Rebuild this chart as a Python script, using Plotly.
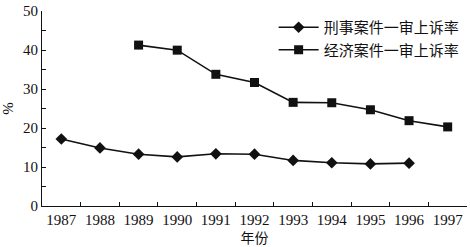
import plotly.graph_objects as go

years = ["1987", "1988", "1989", "1990", "1991", "1992", "1993", "1994", "1995", "1996", "1997"]
crim_years = ["1987", "1988", "1989", "1990", "1991", "1992", "1993", "1994", "1995", "1996"]
crim_vals = [17.2, 14.9, 13.3, 12.6, 13.4, 13.3, 11.7, 11.1, 10.8, 11.0]
econ_years = ["1989", "1990", "1991", "1992", "1993", "1994", "1995", "1996", "1997"]
econ_vals = [41.3, 40.0, 33.8, 31.7, 26.6, 26.5, 24.7, 21.9, 20.3]
crim_name = "刑事案件一审上诉率"
econ_name = "经济案件一审上诉率"

serif = "Liberation Serif, Times New Roman, serif"
cjk = "Noto Sans CJK SC, sans-serif"

fig = go.Figure()
fig.add_trace(go.Scatter(x=crim_years, y=crim_vals, name=crim_name, mode="lines+markers",
                         line=dict(color="#111", width=1.6),
                         marker=dict(symbol="diamond", size=9, color="#111")))
fig.add_trace(go.Scatter(x=econ_years, y=econ_vals, name=econ_name, mode="lines+markers",
                         line=dict(color="#111", width=1.6),
                         marker=dict(symbol="square", size=9, color="#111")))

fig.update_layout(
    width=470, height=247,
    margin=dict(l=42, r=3, t=7, b=41),
    paper_bgcolor="white", plot_bgcolor="white",
    font=dict(family=serif, size=15, color="#111"),
    showlegend=True,
    legend=dict(x=0.545, y=1.0, xanchor="left", yanchor="top",
                bgcolor="rgba(0,0,0,0)", font=dict(family=cjk, size=15, color="#111"),
                tracegroupgap=0, itemwidth=40),
    xaxis=dict(type="category", categoryorder="array", categoryarray=years,
               range=[-0.5, 10.5], tickson="boundaries", ticks="inside", ticklen=4,
               tickangle=0,
               tickcolor="#111", showline=True, linecolor="#111", linewidth=1.2,
               showgrid=False, zeroline=False,
               tickfont=dict(family=serif, size=15),
               title=dict(text="年份", font=dict(family=cjk, size=14), standoff=5)),
    yaxis=dict(range=[0, 50.05], tickvals=[0, 10, 20, 30, 40, 50], ticks="inside", ticklen=4,
               tickcolor="#111", ticklabeloverflow="allow",
               showline=True, linecolor="#111", linewidth=1.2, showgrid=False,
               zeroline=False, tickfont=dict(family=serif, size=15),
               minor=dict(tickvals=[5, 15, 25, 35, 45], ticks="inside", ticklen=4,
                          tickcolor="#111", showgrid=False),
               title=dict(text="%", font=dict(family=serif, size=15), standoff=8)),
)

fig.write_html("out.html")
